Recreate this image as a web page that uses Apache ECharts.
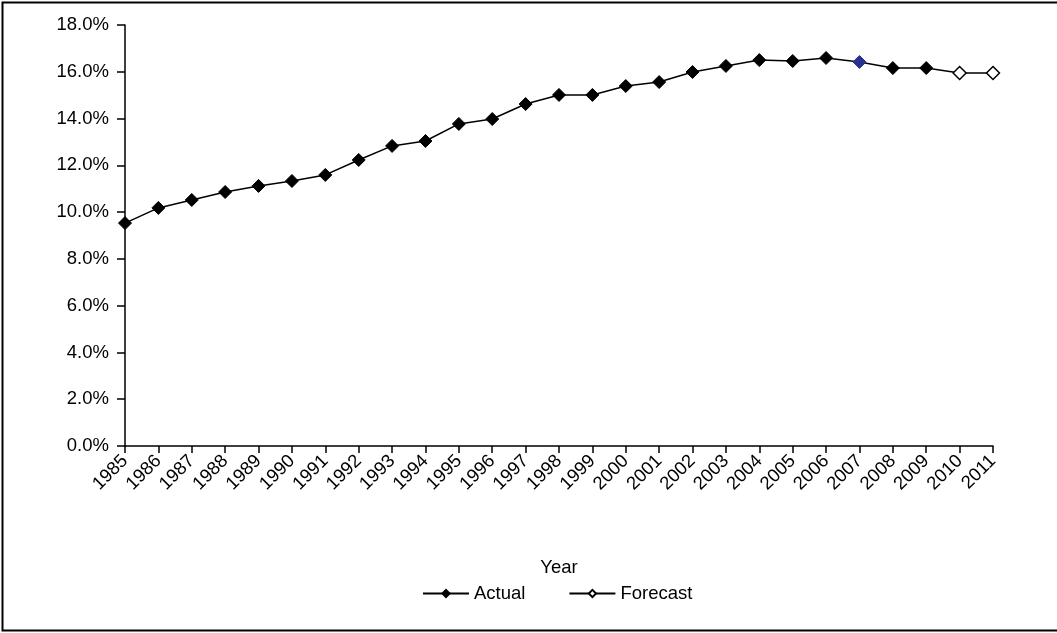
<!DOCTYPE html>
<html>
<head>
<meta charset="utf-8">
<script src="https://cdn.jsdelivr.net/npm/echarts@6/dist/echarts.min.js"></script>
<style>
html,body{margin:0;padding:0;background:#fff;}
#chart{width:1057px;height:633px;}
</style>
</head>
<body>
<div id="chart"></div>
<script>
var years = ['1985','1986','1987','1988','1989','1990','1991','1992','1993','1994','1995','1996','1997','1998','1999','2000','2001','2002','2003','2004','2005','2006','2007','2008','2009','2010','2011'];
var actual = [9.53,10.18,10.52,10.86,11.12,11.33,11.59,12.23,12.83,13.04,13.77,13.98,14.62,15.01,15.01,15.39,15.56,15.99,16.25,16.50,16.46,16.59,16.42,16.16,16.16,null,null];
var forecast = [null,null,null,null,null,null,null,null,null,null,null,null,null,null,null,null,null,null,null,null,null,null,null,null,16.16,15.95,15.95];
var highlightYear = '2007';

var font = '"Liberation Sans", Arial, sans-serif';

var actualData = actual.map(function(v, i){
  if (years[i] === highlightYear) {
    return {value: v, itemStyle: {color: '#2b3190', borderColor: '#2b3190'}};
  }
  return v;
});
var forecastData = forecast.map(function(v, i){
  if (v !== null && i < years.length - 2) {
    return {value: v, symbol: 'none'};
  }
  return v;
});

var chart = echarts.init(document.getElementById('chart'));
chart.setOption({
  animation: false,
  backgroundColor: '#fff',
  grid: {left: 125, right: 64, top: 25, bottom: 187, containLabel: false},
  graphic: [
    {type: 'polyline', shape: {points: [[1057,2.5],[2.5,2.5],[2.5,630.5],[1057,630.5]]}, style: {stroke: '#000', lineWidth: 2, fill: null}}
  ],
  xAxis: {
    type: 'category',
    data: years,
    boundaryGap: false,
    name: 'Year',
    nameLocation: 'middle',
    nameGap: 112,
    nameTextStyle: {fontFamily: font, fontSize: 18.5, color: '#000'},
    axisLine: {lineStyle: {color: '#000', width: 1.5}},
    axisTick: {show: true, length: 7, lineStyle: {color: '#000', width: 1.5}, alignWithLabel: true},
    axisLabel: {rotate: 45, interval: 0, fontFamily: font, fontSize: 18.5, color: '#000', margin: 12},
    splitLine: {show: false}
  },
  yAxis: {
    type: 'value',
    min: 0,
    max: 18,
    interval: 2,
    axisLine: {show: true, lineStyle: {color: '#000', width: 1.5}},
    axisTick: {show: true, length: 8, lineStyle: {color: '#000', width: 1.5}},
    axisLabel: {fontFamily: font, fontSize: 18.5, color: '#000', margin: 16,
      formatter: function(v){ return v.toFixed(1) + '%'; }},
    splitLine: {show: false}
  },
  legend: {
    top: 579,
    left: 417,
    itemWidth: 46,
    itemHeight: 9,
    itemGap: 43,
    textStyle: {fontFamily: font, fontSize: 18.5, color: '#000'},
    data: [
      {name: 'Actual'},
      {name: 'Forecast'}
    ]
  },
  series: [
    {
      name: 'Actual',
      type: 'line',
      data: actualData,
      symbol: 'diamond',
      symbolSize: 13,
      showAllSymbol: true,
      lineStyle: {color: '#000', width: 1.5},
      itemStyle: {color: '#000', borderColor: '#000', borderWidth: 1}
    },
    {
      name: 'Forecast',
      type: 'line',
      data: forecastData,
      symbol: 'diamond',
      symbolSize: 13,
      showAllSymbol: true,
      lineStyle: {color: '#000', width: 1.5},
      itemStyle: {color: '#fff', borderColor: '#000', borderWidth: 1.5}
    }
  ]
});
</script>
</body>
</html>
